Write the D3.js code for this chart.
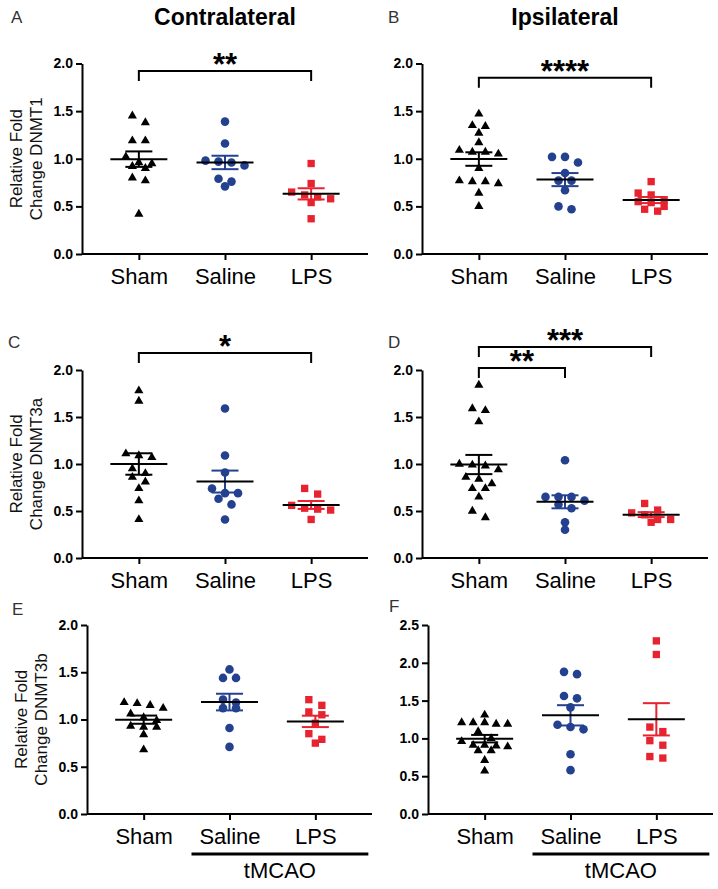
<!DOCTYPE html>
<html>
<head>
<meta charset="utf-8">
<script src="https://cdn.jsdelivr.net/npm/d3@7"></script>
<style>
  body { margin: 0; background: #fff; }
  text { font-family: "Liberation Sans", Arial, Helvetica, sans-serif; }
</style>
</head>
<body>
<script>
var groups = ['Sham', 'Saline', 'LPS'];
var ticks2 = [0, 0.5, 1.0, 1.5, 2.0];
var ticks25 = [0, 0.5, 1.0, 1.5, 2.0, 2.5];

// DNMT1
var dnmt1ContraSham = [1.45, 1.38, 1.19, 1.19, 1.02, 0.96, 0.95, 0.92, 0.90, 0.80, 0.77, 0.42];
var dnmt1ContraSaline = [1.39, 1.16, 0.98, 0.97, 0.96, 0.93, 0.79, 0.76, 0.71];
var dnmt1ContraLps = [0.95, 0.74, 0.65, 0.62, 0.60, 0.58, 0.54, 0.37];
var dnmt1IpsiSham = [1.47, 1.35, 1.34, 1.27, 1.17, 1.09, 1.07, 1.07, 1.05, 0.90, 0.77, 0.76, 0.76, 0.74, 0.64, 0.50];
var dnmt1IpsiSaline = [1.02, 1.02, 0.96, 0.85, 0.77, 0.77, 0.67, 0.50, 0.47];
var dnmt1IpsiLps = [0.76, 0.64, 0.62, 0.57, 0.55, 0.54, 0.50, 0.47, 0.45];

// DNMT3a
var dnmt3aContraSham = [1.78, 1.67, 1.11, 1.09, 1.07, 0.95, 0.90, 0.86, 0.81, 0.74, 0.61, 0.41];
var dnmt3aContraSaline = [1.59, 1.09, 0.91, 0.74, 0.69, 0.69, 0.63, 0.57, 0.41];
var dnmt3aContraLps = [0.74, 0.68, 0.56, 0.53, 0.52, 0.51, 0.41];
var dnmt3aIpsiSham = [1.84, 1.59, 1.57, 1.45, 1.00, 0.99, 0.98, 0.94, 0.86, 0.84, 0.79, 0.74, 0.74, 0.65, 0.50, 0.43];
var dnmt3aIpsiSaline = [1.04, 0.65, 0.65, 0.65, 0.61, 0.57, 0.53, 0.38, 0.30];
var dnmt3aIpsiLps = [0.58, 0.51, 0.48, 0.46, 0.41, 0.41, 0.38];

// DNMT3b
var dnmt3bContraSham = [1.18, 1.17, 1.15, 1.12, 1.06, 1.02, 0.99, 0.93, 0.92, 0.92, 0.84, 0.68];
var dnmt3bContraSaline = [1.53, 1.44, 1.44, 1.21, 1.18, 1.12, 1.12, 0.91, 0.71];
var dnmt3bContraLps = [1.21, 1.15, 1.08, 1.05, 0.96, 0.85, 0.79, 0.75];
var dnmt3bIpsiSham = [1.31, 1.21, 1.21, 1.21, 1.19, 1.19, 1.09, 1.00, 0.96, 0.91, 0.91, 0.90, 0.89, 0.84, 0.84, 0.71, 0.57];
var dnmt3bIpsiSaline = [1.88, 1.85, 1.56, 1.53, 1.41, 1.18, 1.15, 1.12, 0.79, 0.58];
var dnmt3bIpsiLps = [2.29, 2.11, 1.15, 1.09, 0.97, 0.91, 0.76, 0.74];

// significance brackets: [from, to, level, stars]
var bracketsA = [['Sham', 'LPS', 1.92, '**']];
var bracketsB = [['Sham', 'LPS', 1.85, '****']];
var bracketsC = [['Sham', 'LPS', 2.18, '*']];
var bracketsD = [['Sham', 'LPS', 2.245, '***'], ['Sham', 'Saline', 2.02, '**']];

var colors = { Sham: '#000000', Saline: '#24418f', LPS: '#e6232f' };
var shapes = { Sham: d3.symbolTriangle, Saline: d3.symbolCircle, LPS: d3.symbolSquare };
var shapeSize = { Sham: 36, Saline: 58, LPS: 54 };

var panels = [
  { letter: 'A', lx: 11, ly: 23, x0: 82, x1: 368, top: 63.5, bot: 254, max: 2, ticks: ticks2,
    gene: 'DNMT1', title: 'Contralateral', data: [dnmt1ContraSham, dnmt1ContraSaline, dnmt1ContraLps], br: bracketsA },
  { letter: 'B', lx: 388, ly: 23, x0: 422, x1: 708, top: 63.5, bot: 254, max: 2, ticks: ticks2,
    title: 'Ipsilateral', data: [dnmt1IpsiSham, dnmt1IpsiSaline, dnmt1IpsiLps], br: bracketsB },
  { letter: 'C', lx: 8, ly: 348, x0: 82, x1: 368, top: 370, bot: 558, max: 2, ticks: ticks2,
    gene: 'DNMT3a', data: [dnmt3aContraSham, dnmt3aContraSaline, dnmt3aContraLps], br: bracketsC },
  { letter: 'D', lx: 388, ly: 348, x0: 422, x1: 708, top: 370, bot: 558, max: 2, ticks: ticks2,
    data: [dnmt3aIpsiSham, dnmt3aIpsiSaline, dnmt3aIpsiLps], br: bracketsD },
  { letter: 'E', lx: 12, ly: 615, x0: 87, x1: 372, top: 625, bot: 814, max: 2, ticks: ticks2,
    gene: 'DNMT3b', data: [dnmt3bContraSham, dnmt3bContraSaline, dnmt3bContraLps], br: [], tmcao: true },
  { letter: 'F', lx: 389, ly: 612, x0: 428, x1: 713, top: 625, bot: 814, max: 2.5, ticks: ticks25,
    data: [dnmt3bIpsiSham, dnmt3bIpsiSaline, dnmt3bIpsiLps], br: [], tmcao: true }
];

var svg = d3.select('body').append('svg').attr('width', 718).attr('height', 889);

// spread points of similar value side by side, row by row
function swarm(vals, y) {
  var pts = vals.map(function(v) { return { v: v, py: y(v) }; })
    .sort(function(a, b) { return a.py - b.py; });
  var rows = [], cur = null;
  pts.forEach(function(p) {
    if (cur && p.py - cur[0].py < 7) cur.push(p);
    else { cur = [p]; rows.push(cur); }
  });
  rows.forEach(function(r) {
    var n = r.length;
    var s = n > 1 ? Math.min(13, 46 / (n - 1)) : 0;
    r.forEach(function(p, k) { p.dx = (k - (n - 1) / 2) * s; });
  });
  return pts;
}

panels.forEach(function(p) {
  var x = d3.scalePoint().domain(groups).range([p.x0, p.x1]).padding(0.66);
  var y = d3.scaleLinear().domain([0, p.max]).range([p.bot, p.top]);
  var g = svg.append('g');

  g.append('text').attr('x', p.lx).attr('y', p.ly)
    .attr('font-size', 17).attr('fill', '#333').text(p.letter);

  if (p.title) {
    g.append('text').attr('x', x('Saline')).attr('y', 25)
      .attr('text-anchor', 'middle').attr('font-size', 23).attr('font-weight', 'bold')
      .text(p.title);
  }

  if (p.gene) {
    var cy = (p.top + p.bot) / 2;
    var lab = g.append('text').attr('transform', 'translate(' + (p.x0 - 60) + ',' + cy + ') rotate(-90)')
      .attr('text-anchor', 'middle').attr('font-size', 17).attr('fill', '#111');
    lab.append('tspan').attr('x', 0).attr('y', 0).text('Relative Fold');
    lab.append('tspan').attr('x', 0).attr('y', 20).text('Change ' + p.gene);
  }

  var ya = g.append('g').attr('transform', 'translate(' + p.x0 + ',0)')
    .call(d3.axisLeft(y).tickValues(p.ticks).tickFormat(d3.format('.1f'))
      .tickSize(6).tickSizeOuter(0).tickPadding(3));
  ya.selectAll('text').attr('font-size', 14).attr('font-weight', 'bold').attr('fill', '#000');

  var xa = g.append('g').attr('transform', 'translate(0,' + p.bot + ')')
    .call(d3.axisBottom(x).tickSize(6).tickSizeOuter(0).tickPadding(8));
  xa.selectAll('text').attr('font-size', 22).attr('fill', '#000');
  xa.select('.domain').attr('d', 'M' + p.x0 + ',0H' + p.x1);

  [ya, xa].forEach(function(a) {
    a.select('.domain').attr('stroke', '#000').attr('stroke-width', 2);
    a.selectAll('.tick line').attr('stroke', '#000').attr('stroke-width', 2);
  });

  groups.forEach(function(grp, gi) {
    var vals = p.data[gi];
    var cx = x(grp);
    var pts = swarm(vals, y);
    g.append('g').selectAll('path').data(pts).enter().append('path')
      .attr('d', d3.symbol().type(shapes[grp]).size(shapeSize[grp]))
      .attr('transform', function(d) { return 'translate(' + (cx + d.dx) + ',' + d.py + ')'; })
      .attr('fill', colors[grp]);

    var m = d3.mean(vals);
    var sem = d3.deviation(vals) / Math.sqrt(vals.length);
    var eb = g.append('g').attr('stroke', colors[grp]).attr('stroke-width', 2).attr('fill', 'none');
    eb.append('line').attr('x1', cx).attr('x2', cx).attr('y1', y(m - sem)).attr('y2', y(m + sem));
    eb.append('line').attr('x1', cx - 13.5).attr('x2', cx + 13.5).attr('y1', y(m + sem)).attr('y2', y(m + sem));
    eb.append('line').attr('x1', cx - 13.5).attr('x2', cx + 13.5).attr('y1', y(m - sem)).attr('y2', y(m - sem));
    g.append('line').attr('x1', cx - 28.5).attr('x2', cx + 28.5).attr('y1', y(m)).attr('y2', y(m))
      .attr('stroke', '#000').attr('stroke-width', 2);
  });

  p.br.forEach(function(b) {
    var xa1 = x(b[0]), xb1 = x(b[1]), yt = y(b[2]);
    g.append('path')
      .attr('d', 'M' + xa1 + ',' + (yt + 10) + 'V' + yt + 'H' + xb1 + 'V' + (yt + 10))
      .attr('fill', 'none').attr('stroke', '#000').attr('stroke-width', 2);
    g.append('text').attr('x', (xa1 + xb1) / 2).attr('y', yt + 4)
      .attr('text-anchor', 'middle').attr('font-size', 31).attr('font-weight', 'bold')
      .text(b[3]);
  });

  if (p.tmcao) {
    var l0 = x('Saline') - 38, l1 = x('LPS') + 53;
    g.append('line').attr('x1', l0).attr('x2', l1).attr('y1', 854).attr('y2', 854)
      .attr('stroke', '#000').attr('stroke-width', 3);
    g.append('text').attr('x', (l0 + l1) / 2).attr('y', 878)
      .attr('text-anchor', 'middle').attr('font-size', 22).text('tMCAO');
  }
});
</script>
</body>
</html>
